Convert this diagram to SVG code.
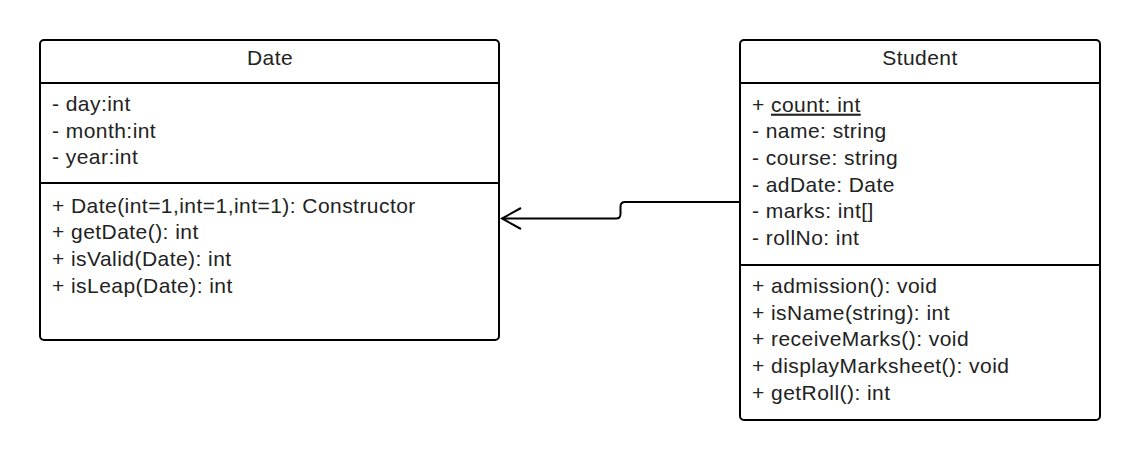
<svg xmlns="http://www.w3.org/2000/svg" width="1140" height="460" viewBox="0 0 1140 460">
<style>
.box{fill:#fff;stroke:#000;stroke-width:2}
.div{stroke:#000;stroke-width:2}
text{font-family:"Liberation Sans",Arial,sans-serif;font-size:21px;letter-spacing:0.45px;fill:#222}
.t{text-anchor:middle}
.conn{fill:none;stroke:#000;stroke-width:2}
</style>
<rect width="1140" height="460" fill="#fff"/>
<g id="node-date">
<rect class="box" x="40" y="40" width="459" height="300" rx="4"/>
<line class="div" x1="40" y1="83" x2="499" y2="83"/>
<line class="div" x1="40" y1="183" x2="499" y2="183"/>
<text class="t" x="270" y="65">Date</text>
<text x="52" y="111">- day:int</text>
<text x="52" y="137.7">- month:int</text>
<text x="52" y="164.4">- year:int</text>
<text x="52" y="212.7">+ Date(int=1,int=1,int=1): Constructor</text>
<text x="52" y="239.4">+ getDate(): int</text>
<text x="52" y="266">+ isValid(Date): int</text>
<text x="52" y="292.7">+ isLeap(Date): int</text>
</g>
<g id="node-student">
<rect class="box" x="740" y="40" width="360" height="380" rx="4"/>
<line class="div" x1="740" y1="83" x2="1100" y2="83"/>
<line class="div" x1="740" y1="265" x2="1100" y2="265"/>
<text class="t" x="920" y="65">Student</text>
<text x="752" y="111.7">+ <tspan text-decoration="underline">count: int</tspan></text>
<text x="752" y="138.4">- name: string</text>
<text x="752" y="165">- course: string</text>
<text x="752" y="191.7">- adDate: Date</text>
<text x="752" y="218.4">- marks: int[]</text>
<text x="752" y="245">- rollNo: int</text>
<text x="752" y="293">+ admission(): void</text>
<text x="752" y="319.7">+ isName(string): int</text>
<text x="752" y="346.4">+ receiveMarks(): void</text>
<text x="752" y="373">+ displayMarksheet(): void</text>
<text x="752" y="399.7">+ getRoll(): int</text>
</g>
<g id="connectors">
<path class="conn" d="M740 202 H625 Q620.5 202 620.5 206.5 V214 Q620.5 218.5 616 218.5 H502"/>
<path class="conn" d="M521 208 L502 218.5 L521 229"/>
</g>
</svg>
